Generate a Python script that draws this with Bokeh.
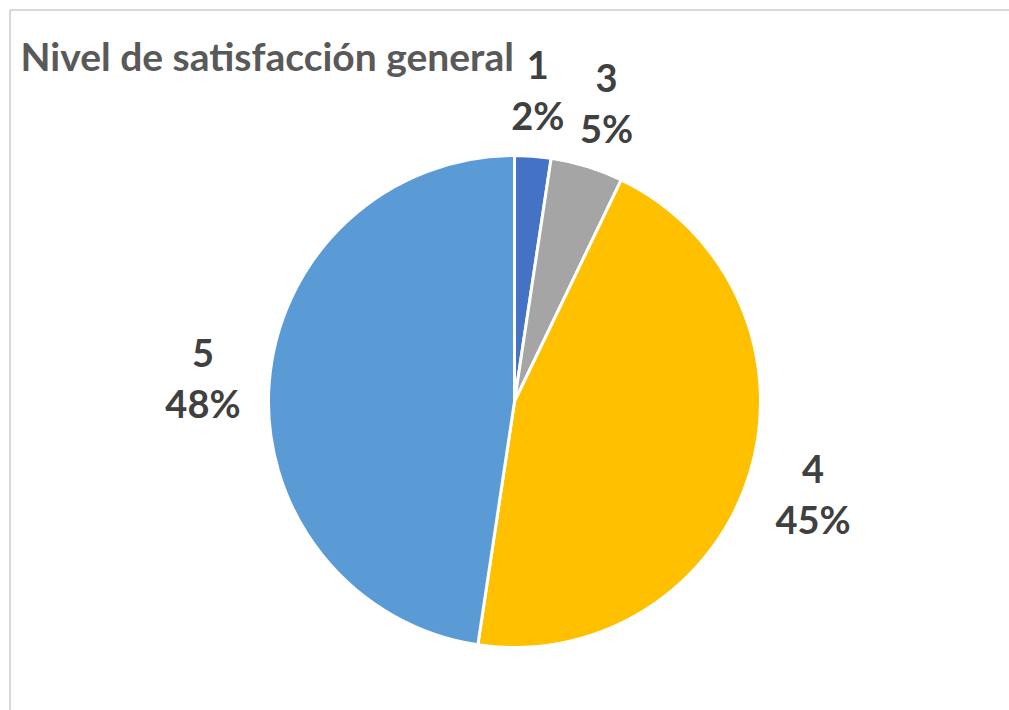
import math
from bokeh.plotting import figure
from bokeh.models import ColumnDataSource, Range1d, Label, BoxAnnotation
from bokeh.embed import file_html
from bokeh.resources import INLINE
from bokeh.core.properties import value

# ---- data ----
categories = ["1", "3", "4", "5"]
counts = [1, 2, 19, 20]
colors = ["#4472C4", "#A5A5A5", "#FFC000", "#5B9BD5"]
title_text = "Nivel de satisfacción general"

W, H = 1009, 710
cx, cy, R = 514, 309, 246
label_r = 1.27 * R

total = sum(counts)
starts, ends, lx, ly, pct = [], [], [], [], []
cum = 0
for c in counts:
    a0 = math.pi / 2 - 2 * math.pi * cum / total
    a1 = math.pi / 2 - 2 * math.pi * (cum + c) / total
    mid = (a0 + a1) / 2
    starts.append(a0)
    ends.append(a1)
    lx.append(cx + label_r * math.cos(mid))
    ly.append(cy + label_r * math.sin(mid))
    pct.append(f"{round(100 * c / total)}%")
    cum += c

src = ColumnDataSource(dict(cat=categories, start=starts, end=ends, color=colors,
                            lx=lx, ly=ly, pct=pct))

p = figure(width=W, height=H, output_backend="svg", toolbar_location=None,
           x_range=Range1d(0, W), y_range=Range1d(0, H),
           x_axis_location=None, y_axis_location=None, min_border=0)
p.grid.visible = False
p.outline_line_color = None
p.background_fill_color = "white"

# chart-area border (only top and left visible in reference)
p.add_layout(BoxAnnotation(left=9.5, right=W + 10, top=H - 9.5, bottom=-10,
                           fill_alpha=0, line_color="#d9d9d9", line_alpha=1,
                           line_width=2, level="underlay"))

p.wedge(x=cx, y=cy, radius=R, start_angle="start", end_angle="end",
        direction="clock", fill_color="color", line_color="white",
        line_width=3, source=src)

lab_font = value("Lato")
p.text(x="lx", y="ly", text="cat", source=src, text_font=lab_font,
       text_font_style="bold", text_font_size="38px", text_color="#404040",
       text_align="center", text_baseline="middle", y_offset=-25)
p.text(x="lx", y="ly", text="pct", source=src, text_font=lab_font,
       text_font_style="bold", text_font_size="38px", text_color="#404040",
       text_align="center", text_baseline="middle", y_offset=25)

p.add_layout(Label(x=20, y=H - 55, x_units="screen", y_units="screen",
                   text=title_text, text_font="Lato", text_font_style="bold",
                   text_font_size="39px", text_color="#595959",
                   text_baseline="alphabetic"))

open("out.html", "w").write(file_html(p, INLINE))
